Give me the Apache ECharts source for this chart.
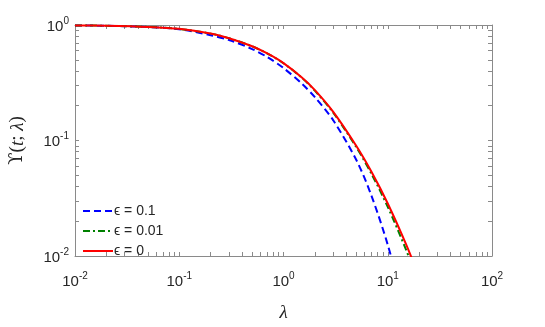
<!DOCTYPE html>
<html>
<head>
<meta charset="utf-8">
<script src="https://cdn.jsdelivr.net/npm/echarts@6/dist/echarts.min.js"></script>
<style>
  html, body { margin: 0; padding: 0; background: #fff; }
  #chart { width: 545px; height: 327px; }
</style>
</head>
<body>
<div id="chart"></div>
<script>
// lambda sample points (x)
const lambdas = [0.01, 0.02, 0.05, 0.1, 0.2, 0.3, 0.5, 0.7, 1, 1.5, 2, 3, 5, 7, 10, 15, 20];
// Upsilon(t; lambda) for each epsilon
const eps01 = [0.992, 0.984, 0.960, 0.918, 0.815, 0.742, 0.619, 0.527, 0.424, 0.310, 0.237, 0.1495, 0.0677, 0.033, 0.0125, 0.0032, 0.0009];
const eps001 = [0.992, 0.985, 0.962, 0.925, 0.842, 0.768, 0.654, 0.566, 0.466, 0.349, 0.270, 0.174, 0.0873, 0.0512, 0.0266, 0.0113, 0.00566];
const eps0 = [0.992, 0.985, 0.962, 0.926, 0.843, 0.769, 0.655, 0.567, 0.468, 0.351, 0.273, 0.177, 0.0895, 0.0533, 0.0285, 0.0126, 0.00658];
const seriesNames = ['ϵ = 0.1', 'ϵ = 0.01', 'ϵ = 0'];

// axis ticks
const xTickValues = [0.01, 0.1, 1, 10, 100];
const yTickValues = [0.01, 0.1, 1];

const axisGray = '#8a8a8a';
const labelColor = '#262626';

// minor ticks of a log axis: 1..9 x 10^n inside the decade range
function logTicks(lo, hi) {
  const out = [];
  for (let n = lo; n < hi; n++) {
    for (let k = 1; k <= 9; k++) out.push(+(k * Math.pow(10, n)).toPrecision(3));
  }
  out.push(Math.pow(10, hi));
  return out;
}
const xAllTicks = logTicks(-2, 2);
const yAllTicks = logTicks(-2, 0);

const pow10 = (v) => {
  const e = Math.round(Math.log10(v));
  return '{b|10}{e|' + e + '}';
};
const tickRich = {
  b: { fontSize: 15, color: labelColor, fontFamily: 'Liberation Sans', verticalAlign: 'bottom' },
  e: { fontSize: 10, color: labelColor, fontFamily: 'Liberation Sans', verticalAlign: 'bottom', padding: [0, 0, 8, 0] }
};

const pairs = (ys) => lambdas.map((x, i) => [x, ys[i]]);

const chart = echarts.init(document.getElementById('chart'));

const baseX = {
  type: 'log', logBase: 10, min: 0.01, max: 100,
  axisLine: { show: true, lineStyle: { color: axisGray, width: 1 } },
  splitLine: { show: false },
  axisTick: { show: true, inside: true, length: 4, lineStyle: { color: axisGray }, customValues: xAllTicks }
};
const baseY = {
  type: 'log', logBase: 10, min: 0.01, max: 1,
  axisLine: { show: true, lineStyle: { color: axisGray, width: 1 } },
  splitLine: { show: false },
  axisTick: { show: true, inside: true, length: 4, lineStyle: { color: axisGray }, customValues: yAllTicks }
};

chart.setOption({
  animation: false,
  backgroundColor: '#fff',
  grid: { left: 71, right: 53, top: 25, bottom: 58 },
  xAxis: [
    Object.assign({}, baseX, {
      position: 'bottom',
      axisLabel: { show: true, margin: 15, customValues: xTickValues, formatter: pow10, rich: tickRich },
      name: 'λ',
      nameLocation: 'middle',
      nameGap: 47,
      nameTextStyle: { fontFamily: 'Liberation Serif', fontStyle: 'italic', fontSize: 19, color: labelColor }
    }),
    Object.assign({}, baseX, { position: 'top', axisLabel: { show: false } })
  ],
  yAxis: [
    Object.assign({}, baseY, {
      position: 'left',
      axisLabel: { show: true, margin: 6, customValues: yTickValues, formatter: pow10, rich: tickRich },
      name: '{u|ϒ}{p|(}{i|t}{p|; }{i|λ}{p|)}',
      nameLocation: 'middle',
      nameGap: 48,
      nameRotate: 90,
      nameTextStyle: {
        rich: {
          u: { fontFamily: 'DejaVu Serif', fontSize: 18, color: labelColor },
          p: { fontFamily: 'Liberation Serif', fontSize: 19, color: labelColor },
          i: { fontFamily: 'Liberation Serif', fontStyle: 'italic', fontSize: 19, color: labelColor }
        }
      }
    }),
    Object.assign({}, baseY, { position: 'right', axisLabel: { show: false } })
  ],
  legend: {
    orient: 'vertical',
    left: 82,
    top: 204,
    itemWidth: 30,
    itemHeight: 14,
    itemGap: 6,
    padding: 0,
    itemStyle: { opacity: 0 },
    textStyle: { fontFamily: 'Liberation Sans', fontSize: 14, color: labelColor, padding: [0, 0, 0, -4] },
    data: seriesNames
  },
  series: [
    {
      name: seriesNames[0], type: 'line', data: pairs(eps01), smooth: 0.3,
      symbol: 'none', clip: true,
      lineStyle: { color: '#0000ff', width: 2, type: [7, 4] },
      itemStyle: { color: '#0000ff' }
    },
    {
      name: seriesNames[1], type: 'line', data: pairs(eps001), smooth: 0.3,
      symbol: 'none', clip: true,
      lineStyle: { color: '#008000', width: 2, type: [7, 3, 2, 3] },
      itemStyle: { color: '#008000' }
    },
    {
      name: seriesNames[2], type: 'line', data: pairs(eps0), smooth: 0.3,
      symbol: 'none', clip: true,
      lineStyle: { color: '#ff0000', width: 2 },
      itemStyle: { color: '#ff0000' }
    }
  ]
});
</script>
</body>
</html>
